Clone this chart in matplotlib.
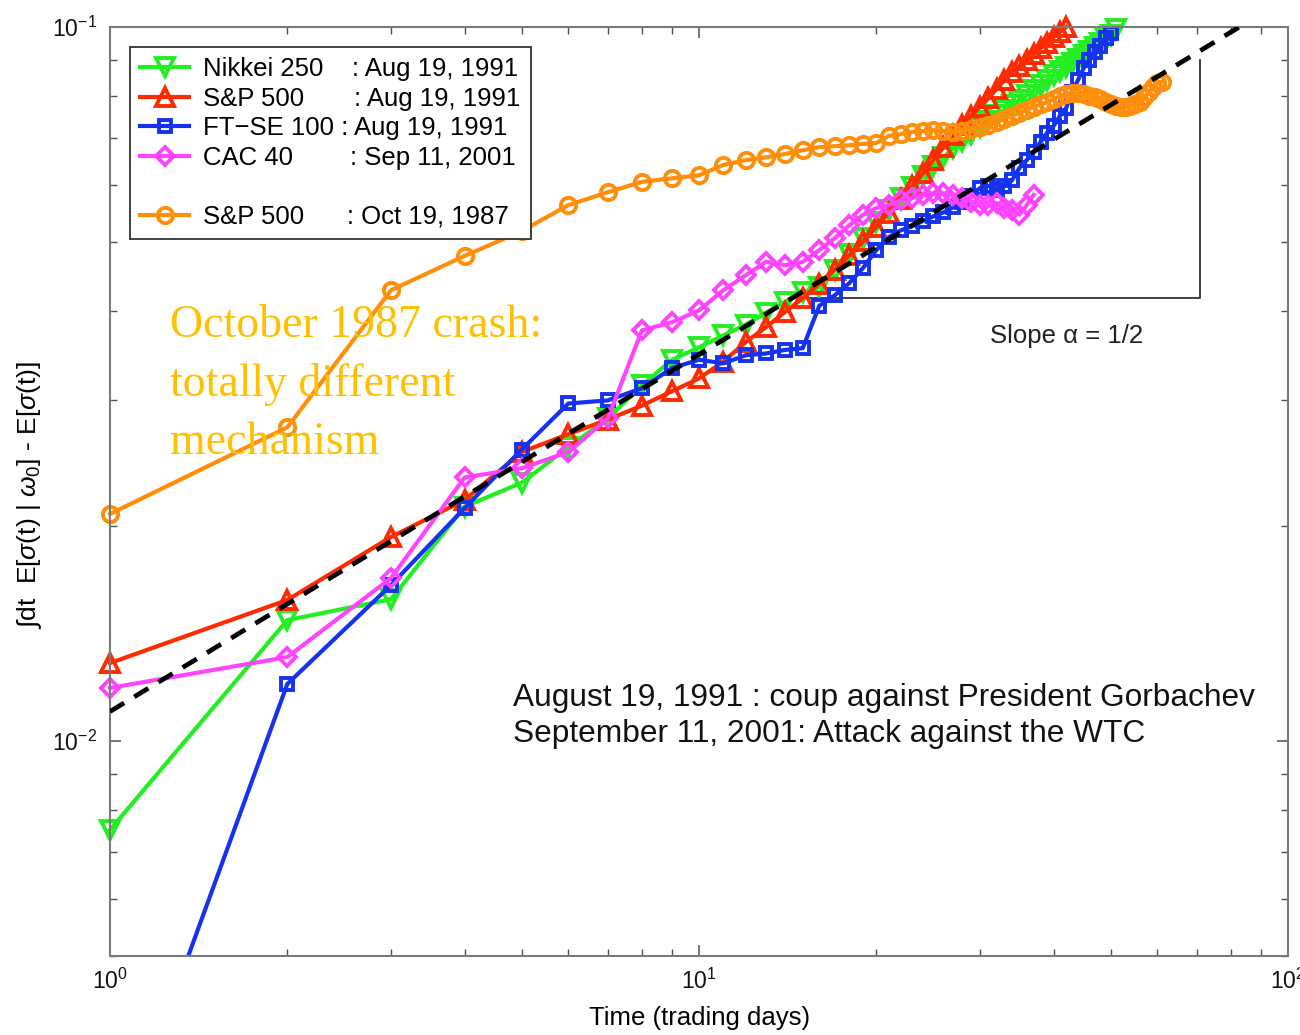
import numpy as np
import matplotlib
matplotlib.use('Agg')
import matplotlib.pyplot as plt
from matplotlib.lines import Line2D
from matplotlib.ticker import LogLocator, NullFormatter

plt.rcParams['font.family'] = ['Liberation Sans', 'DejaVu Sans']
plt.rcParams['mathtext.fontset'] = 'custom'
plt.rcParams['mathtext.rm'] = 'Liberation Sans'
plt.rcParams['mathtext.it'] = 'Liberation Sans:italic'
plt.rcParams['mathtext.sf'] = 'Liberation Sans'

# cumulated excess volatility after each shock, one value per trading day
nikkei_1991 = [0.00751, 0.01477, 0.0158, 0.0213, 0.0230, 0.0258, 0.0283, 0.0315, 0.0342, 0.0356,
               0.0370, 0.0383, 0.0398, 0.0412, 0.0425, 0.0432, 0.0457, 0.0481, 0.0506, 0.0533,
               0.0554, 0.0576, 0.0597, 0.0618, 0.0639, 0.0657, 0.0677, 0.0692, 0.0708, 0.0724,
               0.0739, 0.0753, 0.0765, 0.0778, 0.0790, 0.0803, 0.0816, 0.0829, 0.0843, 0.0857,
               0.0868, 0.0879, 0.0890, 0.0902, 0.0914, 0.0926, 0.0938, 0.0950, 0.0962, 0.0975,
               0.0994]
sp500_1991 = [0.01286, 0.01576, 0.01931, 0.02176, 0.0254, 0.0269, 0.0282, 0.0295, 0.0309, 0.0322,
              0.0340, 0.0362, 0.0380, 0.0399, 0.0417, 0.0437, 0.0457, 0.0479, 0.0501, 0.0525,
              0.0549, 0.0574, 0.0599, 0.0624, 0.0651, 0.0679, 0.0706, 0.0729, 0.0751, 0.0773,
              0.0795, 0.0819, 0.0843, 0.0865, 0.0882, 0.0899, 0.0917, 0.0935, 0.0950, 0.0968,
              0.0984, 0.1000]
ftse_1991 = [0.0025, 0.01202, 0.01654, 0.0212, 0.0256, 0.0297, 0.0300, 0.0312, 0.0333, 0.0342,
             0.0338, 0.0347, 0.0349, 0.0353, 0.0355, 0.0407, 0.0421, 0.0438, 0.0460, 0.0487,
             0.0508, 0.0519, 0.0526, 0.0535, 0.0543, 0.0550, 0.0559, 0.0569, 0.0580, 0.0595,
             0.0599, 0.0591, 0.0599, 0.0610, 0.0635, 0.0651, 0.0668, 0.0690, 0.0711, 0.0727,
             0.0751, 0.0770, 0.0811, 0.0843, 0.0876, 0.0899, 0.0923, 0.0941, 0.0965, 0.0981]
cac_2001 = [0.01187, 0.01311, 0.01692, 0.0234, 0.0241, 0.0254, 0.0283, 0.0376, 0.0386, 0.0401,
            0.0428, 0.0449, 0.0469, 0.0464, 0.0469, 0.0487, 0.0506, 0.0528, 0.0546, 0.0558,
            0.0563, 0.0572, 0.0576, 0.0582, 0.0585, 0.0585, 0.0582, 0.0576, 0.0569, 0.0563,
            0.0563, 0.0567, 0.0558, 0.0554, 0.0546, 0.0563, 0.0582]
sp500_1987 = [0.0208, 0.0275, 0.0428, 0.0478, 0.0518, 0.0563, 0.0587, 0.0607, 0.0614, 0.0620,
              0.0641, 0.0651, 0.0657, 0.0664, 0.0672, 0.0679, 0.0681, 0.0683, 0.0686, 0.0688,
              0.0704, 0.0708, 0.0713, 0.0715, 0.0717, 0.0715, 0.0713, 0.0715, 0.0720, 0.0724,
              0.0729, 0.0736, 0.0743, 0.0751, 0.0758, 0.0765, 0.0773, 0.0780, 0.0785, 0.0793,
              0.0800, 0.0806, 0.0808, 0.0808, 0.0806, 0.0800, 0.0798, 0.0793, 0.0785, 0.0780,
              0.0775, 0.0773, 0.0773, 0.0775, 0.0780, 0.0785, 0.0798, 0.0811, 0.0824, 0.0835,
              0.0838]

# power law t^(1/2) drawn as a guide
guide_t = [1, 83]
guide_y = [0.011, 0.1002]

# slope triangle under the guide
slope_t = [14.4, 71, 71]
slope_y = [0.0417, 0.0417, 0.090]

series = [
    ('Nikkei 250    : Aug 19, 1991', nikkei_1991, '#22EE22', 'v', 13, True),
    ('S&P 500       : Aug 19, 1991', sp500_1991, '#FF2A00', '^', 13, True),
    ('FT\u2212SE 100 : Aug 19, 1991', ftse_1991, '#1432F0', 's', 9, False),
    ('CAC 40        : Sep 11, 2001', cac_2001, '#FF44FF', 'D', 9, True),
    ('S&P 500      : Oct 19, 1987', sp500_1987, '#FF8F0A', 'o', 11, True),
]

fig = plt.figure(figsize=(13, 10.35), dpi=100)
ax = fig.add_axes([0.0846, 0.0763, 0.9062, 0.8976])

handles = []
for label, values, color, marker, size, unclipped in series:
    days = np.arange(1, len(values) + 1)
    line, = ax.plot(days, values, color=color, lw=3.0, marker=marker, markersize=size,
                    markerfacecolor='none', markeredgecolor=color, markeredgewidth=2.8,
                    label=label, clip_on=not unclipped)
    handles.append(line)

ax.plot(guide_t, guide_y, color='black', lw=3.4, dashes=(3.5, 2.5), zorder=6)
ax.plot(slope_t, slope_y, color='#404040', lw=1.4, zorder=1)

ax.set_xscale('log')
ax.set_yscale('log')
ax.set_xlim(1, 100)
ax.set_ylim(0.005, 0.1)
for axis in (ax.xaxis, ax.yaxis):
    axis.set_major_locator(LogLocator(base=10))
    axis.set_minor_locator(LogLocator(base=10, subs=np.arange(2, 10)))
    axis.set_minor_formatter(NullFormatter())

for side in ax.spines.values():
    side.set_color('#7a7a7a')
    side.set_linewidth(1.5)
ax.tick_params(which='both', direction='in', top=True, right=True, color='#505050',
               labelsize=16.5, labelcolor='#111111')
ax.tick_params(which='major', length=8, width=1.1, pad=9)
ax.tick_params(which='minor', length=5, width=1.0)

ax.set_xlabel('Time (trading days)', fontsize=18.5)
ax.xaxis.set_label_coords(0.5008, -0.054)
ax.set_ylabel(r'$\int$dt  E[$\sigma$(t) | $\omega_0$] - E[$\sigma$(t)]', fontsize=19)
ax.yaxis.set_label_coords(-0.056, 0.496)

# blank row separating the 1987 crash in the legend
spacer = Line2D([], [], linestyle='none', label=' ')
leg_handles = handles[:4] + [spacer] + handles[4:]
leg = ax.legend(handles=leg_handles, loc='upper left', bbox_to_anchor=(0.017, 0.9785),
                borderaxespad=0, fontsize=18.5, labelspacing=0.215, handlelength=1.9,
                handletextpad=0.55, borderpad=0.4, fancybox=False, framealpha=1,
                edgecolor='#333333', numpoints=1)
leg.get_frame().set_linewidth(1.3)

crash_lines = ['October 1987 crash:', 'totally different', 'mechanism']
crash_y = [0.6663, 0.6028, 0.5404]
for text, y in zip(crash_lines, crash_y):
    ax.text(0.0509, y, text, transform=ax.transAxes, family='Liberation Serif',
            fontsize=33, color='#FFC000', va='baseline', ha='left', zorder=7)

ax.text(0.747, 0.6598, 'Slope \u03b1 = 1/2', transform=ax.transAxes, fontsize=18.5,
        color='#222222', va='baseline', ha='left')
ax.text(0.342, 0.2691, 'August 19, 1991 : coup against President Gorbachev',
        transform=ax.transAxes, fontsize=22.8, color='#111111', va='baseline', ha='left')
ax.text(0.342, 0.2304, 'September 11, 2001: Attack against the WTC',
        transform=ax.transAxes, fontsize=22.8, color='#111111', va='baseline', ha='left')

fig.savefig('out.png', dpi=100, facecolor='white')
